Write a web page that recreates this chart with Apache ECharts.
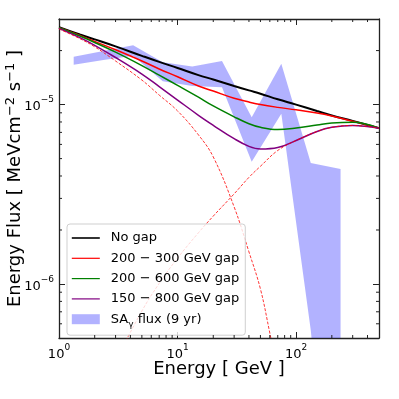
<!DOCTYPE html>
<html>
<head>
<meta charset="utf-8">
<script src="https://cdn.jsdelivr.net/npm/echarts@6/dist/echarts.min.js"></script>
<style>
  html, body { margin: 0; padding: 0; background: #fff; }
  #chart { width: 399px; height: 399px; }
</style>
</head>
<body>
<div id="chart"></div>
<script>
// axis ranges
const xMin = 1, xMax = 500;
const yMin = 5e-7, yMax = 3e-5;

// model curves, energy in GeV, flux in MeV cm^-2 s^-1
const energies = [1, 1.5, 2, 3, 5, 7, 10, 15, 20, 30, 40, 50, 70, 100, 150, 200, 300, 500];
const noGap = [2.70e-5, 2.46e-5, 2.31e-5, 2.11e-5, 1.87e-5, 1.73e-5, 1.60e-5, 1.46e-5, 1.38e-5, 1.27e-5, 1.20e-5, 1.15e-5, 1.07e-5, 1.00e-5, 9.22e-6, 8.70e-6, 8.11e-6, 7.39e-6];
const gap200_300 = [2.68e-5, 2.43e-5, 2.25e-5, 2.02e-5, 1.75e-5, 1.58e-5, 1.43e-5, 1.27e-5, 1.19e-5, 1.084e-5, 1.033e-5, 1.0e-5, 9.65e-6, 9.35e-6, 8.97e-6, 8.63e-6, 8.08e-6, 7.41e-6];
const gap200_600 = [2.68e-5, 2.41e-5, 2.22e-5, 1.96e-5, 1.65e-5, 1.46e-5, 1.28e-5, 1.10e-5, 9.83e-6, 8.55e-6, 7.82e-6, 7.47e-6, 7.26e-6, 7.40e-6, 7.69e-6, 7.89e-6, 7.97e-6, 7.39e-6];
const gap150_800 = [2.66e-5, 2.36e-5, 2.14e-5, 1.83e-5, 1.48e-5, 1.26e-5, 1.06e-5, 8.72e-6, 7.67e-6, 6.46e-6, 5.85e-6, 5.65e-6, 5.76e-6, 6.31e-6, 7.08e-6, 7.47e-6, 7.65e-6, 7.39e-6];

// the two components of the 200-300 GeV model (dashed)
const lowE = [1, 1.5, 2, 3, 5, 7, 10, 15, 20, 30, 40, 50, 60, 70];
const lowComp = [2.64e-5, 2.33e-5, 2.10e-5, 1.75e-5, 1.37e-5, 1.13e-5, 9.22e-6, 6.78e-6, 5.11e-6, 2.69e-6, 1.51e-6, 9.38e-7, 5.33e-7, 3.27e-7];
const highE = [3, 5, 7, 10, 15, 20, 30, 40, 50, 70, 100, 150, 200, 300, 500];
const highComp = [3.72e-7, 7.07e-7, 1.008e-6, 1.394e-6, 1.93e-6, 2.39e-6, 3.18e-6, 3.93e-6, 4.53e-6, 5.55e-6, 6.31e-6, 7.08e-6, 7.47e-6, 7.65e-6, 7.39e-6];

// SA gamma flux band (9 yr)
const bandE = [1.33, 2.37, 4.22, 7.5, 13.3, 23.7, 42.2, 75, 133, 237];
const bandUpper = [1.85e-5, 1.99e-5, 2.14e-5, 1.72e-5, 1.63e-5, 1.75e-5, 8.5e-6, 1.69e-5, 4.73e-6, 4.38e-6];
const bandLower = [1.67e-5, 1.77e-5, 1.87e-5, 1.35e-5, 1.27e-5, 1.25e-5, 4.8e-6, 8.9e-6, 5.5e-7, 1e-8];

// minor ticks
const xMinorTicks = [2, 3, 4, 5, 6, 7, 8, 9, 20, 30, 40, 50, 60, 70, 80, 90, 200, 300, 400];
const yMinorTicks = [6e-7, 7e-7, 8e-7, 9e-7, 2e-6, 3e-6, 4e-6, 5e-6, 6e-6, 7e-6, 8e-6, 9e-6, 2e-5];

const frameColor = '#222';
const font = 'DejaVu Sans';

function pairs(xs, ys) {
  return xs.map((x, i) => [x, ys[i]]);
}

function powLabel(v) {
  const lg = Math.log10(v);
  const p = Math.round(lg);
  if (Math.abs(lg - p) > 1e-6) return '';
  return '{b|10}{s|' + (p < 0 ? '\u2212' + (-p) : p) + '}';
}

const labelRich = {
  b: { fontSize: 13, fontFamily: font, color: '#000', lineHeight: 18, verticalAlign: 'bottom' },
  s: { fontSize: 9, fontFamily: font, color: '#000', lineHeight: 18, verticalAlign: 'top' }
};

function logAxis(min, max, extra) {
  return Object.assign({
    type: 'log',
    logBase: 10,
    min: min,
    max: max,
    axisLine: { show: true, onZero: false, lineStyle: { color: frameColor, width: 1.3 } },
    axisTick: { show: true, inside: true, length: 6, lineStyle: { color: frameColor, width: 1 } },
    splitLine: { show: false },
    minorTick: { show: false },
    axisLabel: { show: false }
  }, extra);
}

function xTick(params, api) {
  const cs = params.coordSys;
  const x = api.coord([api.value(0), api.value(1)])[0];
  const b = cs.y + cs.height, t = cs.y;
  const st = { stroke: frameColor, lineWidth: 1 };
  return {
    type: 'group',
    children: [
      { type: 'line', shape: { x1: x, y1: b, x2: x, y2: b - 3 }, style: st },
      { type: 'line', shape: { x1: x, y1: t, x2: x, y2: t + 3 }, style: st }
    ]
  };
}

function yTick(params, api) {
  const cs = params.coordSys;
  const y = api.coord([api.value(0), api.value(1)])[1];
  const l = cs.x, r = cs.x + cs.width;
  const st = { stroke: frameColor, lineWidth: 1 };
  return {
    type: 'group',
    children: [
      { type: 'line', shape: { x1: l, y1: y, x2: l + 3, y2: y }, style: st },
      { type: 'line', shape: { x1: r, y1: y, x2: r - 3, y2: y }, style: st }
    ]
  };
}

function band(params, api) {
  if (params.dataIndex !== 0) return null;
  const pts = [];
  for (let i = 0; i < bandE.length; i++) pts.push(api.coord([bandE[i], bandUpper[i]]));
  for (let i = bandE.length - 1; i >= 0; i--) pts.push(api.coord([bandE[i], bandLower[i]]));
  return {
    type: 'polygon',
    shape: { points: pts },
    style: { fill: 'rgba(0,0,255,0.3)' }
  };
}

function curve(name, xs, ys, color, width, dashed) {
  return {
    name: name,
    type: 'line',
    data: pairs(xs, ys),
    symbol: 'none',
    smooth: 0.4,
    silent: true,
    color: color,
    lineStyle: { color: color, width: width, type: dashed ? [3, 1.6] : 'solid' }
  };
}

function legendLine(name, width) {
  return { name: name, itemStyle: { opacity: 0 }, lineStyle: { width: width, opacity: 1 } };
}

const chart = echarts.init(document.getElementById('chart'), null, { renderer: 'canvas' });

chart.setOption({
  animation: false,
  backgroundColor: '#fff',
  textStyle: { fontFamily: font },
  grid: { left: 59, right: 20, top: 19, bottom: 61, containLabel: false, outerBoundsMode: 'none' },
  xAxis: [
    logAxis(xMin, xMax, {
      position: 'bottom',
      axisLabel: { show: true, margin: 5, formatter: powLabel, rich: labelRich },
      name: 'Energy [ GeV ]',
      nameLocation: 'middle',
      nameMoveOverlap: false,
      nameGap: 22,
      nameTextStyle: { fontSize: 18, fontFamily: font, color: '#000' }
    }),
    logAxis(xMin, xMax, { position: 'top' })
  ],
  yAxis: [
    logAxis(yMin, yMax, {
      position: 'left',
      axisLabel: { show: true, margin: 5, formatter: powLabel, rich: labelRich },
      name: 'Energy Flux [ MeVcm{s|\u22122} s{s|\u22121} ]',
      nameLocation: 'middle',
      nameRotate: 90,
      nameMoveOverlap: false,
      nameGap: 33,
      nameTextStyle: {
        fontSize: 18, fontFamily: font, color: '#000', lineHeight: 22,
        rich: { s: { fontSize: 13, fontFamily: font, color: '#000', lineHeight: 22, verticalAlign: 'top' } }
      }
    }),
    logAxis(yMin, yMax, { position: 'right' })
  ],
  legend: {
    orient: 'vertical',
    left: 67,
    top: 224,
    itemWidth: 28,
    itemHeight: 10,
    itemGap: 6.3,
    padding: [7, 6, 6, 4],
    backgroundColor: 'rgba(255,255,255,0.8)',
    borderColor: '#cfcfcf',
    borderWidth: 1,
    borderRadius: 3,
    selectedMode: false,
    textStyle: {
      fontSize: 13, fontFamily: font, color: '#000', lineHeight: 14, padding: [0, 0, 0, 6],
      rich: {
        n: { fontSize: 13, fontFamily: font, color: '#000', lineHeight: 14 },
        sub: { fontSize: 9, fontFamily: font, color: '#000', lineHeight: 14, verticalAlign: 'bottom', padding: [0, 0, -3, 0] }
      }
    },
    formatter: function (name) {
      if (name.indexOf('SA') === 0) return '{n|SA}{sub|\u03b3}{n| flux (9 yr)}';
      return name;
    },
    data: [
      legendLine('No gap', 1.6),
      legendLine('200 \u2212 300 GeV gap', 1.2),
      legendLine('200 \u2212 600 GeV gap', 1.2),
      legendLine('150 \u2212 800 GeV gap', 1.2),
      { name: 'SA\u03b3 flux (9 yr)', icon: 'rect', itemStyle: { color: 'rgba(0,0,255,0.3)' } }
    ]
  },
  series: [
    {
      name: 'SA\u03b3 flux (9 yr)',
      type: 'custom',
      clip: true,
      silent: true,
      color: 'rgba(0,0,255,0.3)',
      itemStyle: { color: 'rgba(0,0,255,0.3)' },
      renderItem: band,
      data: [[bandE[0], bandUpper[0]]]
    },
    curve('No gap', energies, noGap, '#000000', 2, false),
    curve('200 \u2212 300 GeV gap', energies, gap200_300, '#ff0000', 1.5, false),
    curve('200 \u2212 600 GeV gap', energies, gap200_600, '#008000', 1.5, false),
    curve('150 \u2212 800 GeV gap', energies, gap150_800, '#800080', 1.5, false),
    curve('low component', lowE, lowComp, '#ff0000', 0.8, true),
    curve('high component', highE, highComp, '#ff0000', 0.8, true),
    {
      type: 'custom',
      silent: true,
      renderItem: xTick,
      data: xMinorTicks.map(v => [v, yMin]),
      z: 5
    },
    {
      type: 'custom',
      silent: true,
      renderItem: yTick,
      data: yMinorTicks.map(v => [xMin, v]),
      z: 5
    }
  ]
});
</script>
</body>
</html>
